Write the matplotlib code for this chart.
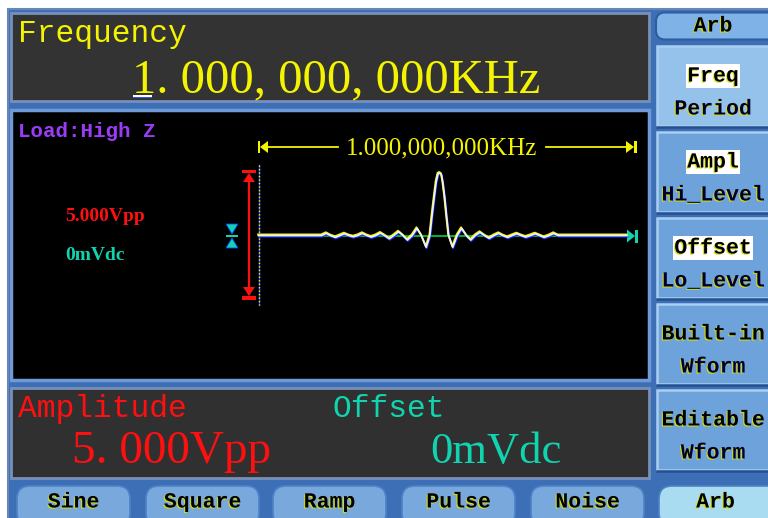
import matplotlib
matplotlib.use("Agg")
import matplotlib.pyplot as plt
from matplotlib.patches import Rectangle, FancyBboxPatch, Polygon
import matplotlib.patheffects as pe
from matplotlib.transforms import offset_copy

# ---------------- data ----------------
freq_title = "Frequency"
freq_value = "1. 000, 000, 000KHz"
freq_short = "1.000,000,000KHz"
load_label = "Load:High Z"
amp_title = "Amplitude"
amp_value = "5. 000Vpp"
amp_short = "5.000Vpp"
off_title = "Offset"
off_value = "0mVdc"
amplitude_vpp = 5.0
offset_v = 0.0

# arbitrary waveform (normalised, one period)
wave_t = [0.000, 0.171, 0.184, 0.195, 0.209, 0.221, 0.233, 0.245, 0.257, 0.269,
          0.282, 0.294, 0.306, 0.318, 0.331, 0.342, 0.355, 0.367, 0.380, 0.392,
          0.404, 0.417, 0.430, 0.442, 0.455, 0.465, 0.471, 0.477, 0.482, 0.487,
          0.491, 0.496, 0.500, 0.505, 0.510, 0.516, 0.527, 0.539, 0.551, 0.564,
          0.576, 0.588, 0.601, 0.613, 0.626, 0.639, 0.652, 0.663, 0.676, 0.688,
          0.701, 0.713, 0.725, 0.738, 0.751, 0.763, 0.775, 0.789, 0.801, 0.813,
          1.000]
wave_v = [0.000, 0.000, 0.035, 0.000, -0.029, 0.000, 0.029, 0.000, -0.019, 0.000,
          0.035, 0.000, -0.024, 0.000, 0.040, 0.000, -0.051, 0.000, 0.060, 0.000,
          -0.071, 0.000, 0.114, 0.000, -0.187, 0.000, 0.325, 0.616, 0.849, 0.976,
          0.992, 0.976, 0.849, 0.616, 0.325, 0.000, -0.187, 0.000, 0.114, 0.000,
          -0.071, 0.000, 0.051, 0.000, -0.044, 0.000, 0.035, 0.000, -0.029, 0.000,
          0.029, 0.000, -0.024, 0.000, 0.029, 0.000, -0.029, 0.000, 0.035, 0.000,
          0.000]

side_top = "Arb"
side_keys = [("Freq", "Period"), ("Ampl", "Hi_Level"), ("Offset", "Lo_Level"),
             ("Built-in", "Wform"), ("Editable", "Wform")]
bottom_keys = ["Sine", "Square", "Ramp", "Pulse", "Noise", "Arb"]

# ---------------- styles ----------------
MONO = "Liberation Mono"
SERIF = "Liberation Serif"
BLUE_BG = "#3d6fb7"
YEL = "#f4f400"
RED = "#ff1010"
CYAN = "#10d4b0"
PURPLE = "#9a3cf5"

fig = plt.figure(figsize=(7.68, 5.18), dpi=100)
fig.patch.set_facecolor("white")
ax = fig.add_axes([0, 0, 1, 1])
ax.set_xlim(0, 768)
ax.set_ylim(518, 0)
ax.axis("off")

# frame background
ax.add_patch(Rectangle((8, 9), 770, 520, facecolor=BLUE_BG, edgecolor="#6a86b8", lw=1.5))

# panels
ax.add_patch(Rectangle((10.5, 12.5), 638, 88, facecolor="#333333", edgecolor="#7890b8", lw=2))
ax.add_patch(Rectangle((10.5, 110), 638, 270, facecolor="#000000", edgecolor="#6f9ad6", lw=2.5))
ax.add_patch(Rectangle((10.5, 388), 638, 90, facecolor="#303030", edgecolor="#7890b8", lw=2))

# ---- top panel text
ax.text(18, 42, freq_title, family=MONO, fontsize=22.5, color=YEL, va="baseline", ha="left")
ax.text(132, 92, freq_value, family=SERIF, fontsize=35, color=YEL, va="baseline", ha="left")
ax.add_patch(Rectangle((133, 94.5), 19, 2, facecolor="white", edgecolor="none"))
ax.add_patch(Rectangle((133, 96.5), 19, 1.3, facecolor="#3050ff", edgecolor="none"))

# ---- bottom panel text
ax.text(18, 417, amp_title, family=MONO, fontsize=22.5, color=RED, va="baseline", ha="left")
ax.text(333, 417, off_title, family=MONO, fontsize=22.5, color=CYAN, va="baseline", ha="left")
ax.text(72, 463, amp_value, family=SERIF, fontsize=34, color=RED, va="baseline", ha="left")
ax.text(496, 463, off_value, family=SERIF, fontsize=32, color=CYAN, va="baseline", ha="center")

# ---- middle panel labels
ax.text(18, 137, load_label, family=MONO, fontsize=15, fontweight="bold", color=PURPLE,
        va="baseline", ha="left")
ax.text(65, 221, amp_short, family=SERIF, fontsize=14, fontweight="bold", color=RED,
        va="baseline", ha="left")
ax.text(65, 260, off_value, family=SERIF, fontsize=14, fontweight="bold", color=CYAN,
        va="baseline", ha="left")

# frequency span arrow
ay = 147
ax.add_patch(Rectangle((257.5, ay - 6), 2.5, 12, facecolor=YEL, edgecolor="none"))
ax.add_patch(Polygon([(260, ay), (268, ay - 6), (268, ay + 6)], closed=True, facecolor=YEL, edgecolor="none"))
ax.plot([268, 338], [ay, ay], color=YEL, lw=1.3)
ax.plot([546, 627], [ay, ay], color=YEL, lw=1.3)
ax.add_patch(Polygon([(634, ay), (626, ay - 6), (626, ay + 6)], closed=True, facecolor=YEL, edgecolor="none"))
ax.add_patch(Rectangle((634, ay - 6), 2.5, 12, facecolor=YEL, edgecolor="none"))
ax.text(442, ay + 7, freq_short, family=SERIF, fontsize=18, color=YEL, va="baseline", ha="center",
        bbox=dict(facecolor="black", edgecolor="none", pad=0.5))

# amplitude arrow (red)
rx = 249
ax.plot([rx, rx], [176, 294], color=RED, lw=1.6)
ax.add_patch(Rectangle((rx - 7, 169.5), 14, 3.5, facecolor=RED, edgecolor="none"))
ax.add_patch(Polygon([(rx, 173), (rx - 6, 182), (rx + 6, 182)], closed=True, facecolor=RED, edgecolor="none"))
ax.add_patch(Rectangle((rx - 7, 296), 14, 3.5, facecolor=RED, edgecolor="none"))
ax.add_patch(Polygon([(rx, 296), (rx - 6, 287), (rx + 6, 287)], closed=True, facecolor=RED, edgecolor="none"))

# offset marker (cyan)
ox, oy = 232, 236
ax.add_patch(Polygon([(ox - 6, oy - 12), (ox + 6, oy - 12), (ox, oy - 2)], closed=True,
                     facecolor=CYAN, edgecolor="#1040ff", lw=0.6))
ax.add_patch(Rectangle((ox - 6, oy - 1.2), 12, 2.4, facecolor=CYAN, edgecolor="none"))
ax.add_patch(Polygon([(ox - 6, oy + 12), (ox + 6, oy + 12), (ox, oy + 2)], closed=True,
                     facecolor=CYAN, edgecolor="#1040ff", lw=0.6))

# dotted time-zero line
ax.plot([258.5, 258.5], [165, 305], color="#2040ff", lw=1.0)
ax.plot([258.5, 258.5], [165, 305], color=YEL, lw=1.0, linestyle=(0, (1, 1.5)))

# end marker (cyan)
ax.add_patch(Polygon([(627, oy - 6.5), (627, oy + 6.5), (635, oy)], closed=True, facecolor=CYAN, edgecolor="none"))
ax.add_patch(Rectangle((635, oy - 6.5), 2.5, 13, facecolor=CYAN, edgecolor="none"))

# ---- waveform axes
wx0, wx1, wy0, wy1 = 258.5, 627, 172.5, 298.5
wax = fig.add_axes([wx0 / 768, 1 - wy1 / 518, (wx1 - wx0) / 768, (wy1 - wy0) / 518])
wax.set_xlim(0, 1)
wax.set_ylim(offset_v - amplitude_vpp / 2, offset_v + amplitude_vpp / 2)
wax.axis("off")
wax.patch.set_alpha(0)
volts = [offset_v + amplitude_vpp / 2 * v for v in wave_v]
wax.plot([0, 1], [offset_v, offset_v], color="#00c040", lw=1.3, clip_on=False)
tb = offset_copy(wax.transData, fig=fig, x=0.5, y=-1.1, units="dots")
ty = offset_copy(wax.transData, fig=fig, x=-0.5, y=1.1, units="dots")
wax.plot(wave_t, volts, color="#1830ff", lw=1.3, transform=tb, clip_on=False, solid_joinstyle="round")
wax.plot(wave_t, volts, color=YEL, lw=1.3, transform=ty, clip_on=False, solid_joinstyle="round")
wax.plot(wave_t, volts, color="#f0f0f0", lw=1.3, clip_on=False, solid_joinstyle="round")

# ---- right column
ax.add_patch(FancyBboxPatch((656, 12.5), 130, 27, boxstyle="round,pad=0,rounding_size=9",
                            facecolor="#7fb2e6", edgecolor="#2d5d9e", lw=1.5))
halo = [pe.withSimplePatchShadow(offset=(-0.8, -0.8), shadow_rgbFace="#d8e000", alpha=0.9)]
ax.text(713, 26, side_top, family=MONO, fontsize=15.5, fontweight="bold", color="black",
        ha="center", va="center", path_effects=halo)

btn_tops = [46, 132, 218, 304, 390]
for i, (k1, k2) in enumerate(side_keys):
    top = btn_tops[i]
    fc = "#95c2ea" if i == 0 else "#6ea2da"
    ax.add_patch(Rectangle((657, top), 120, 80, facecolor=fc, edgecolor="#a9cff2", lw=1.8))
    ax.plot([657, 768], [top + 81, top + 81], color="#23508f", lw=1.8)
    bbox = dict(facecolor="#ffffff", edgecolor="none", boxstyle="square,pad=0.08") if i < 3 else None
    ax.text(713, top + 30, k1, family=MONO, fontsize=15.5, fontweight="bold", color="black",
            ha="center", va="center", bbox=bbox, path_effects=halo)
    ax.text(713, top + 63, k2, family=MONO, fontsize=15.5, fontweight="bold", color="#000030",
            ha="center", va="center", path_effects=halo)

# ---- bottom buttons
bx = [17, 146, 273, 402, 531, 659]
for i, name in enumerate(bottom_keys):
    w = 113 if i < 5 else 130
    fc = "#a9dcf0" if i == 5 else "#79a8dd"
    ax.add_patch(FancyBboxPatch((bx[i], 486), w, 40, boxstyle="round,pad=0,rounding_size=13",
                                facecolor=fc, edgecolor="#4f82c6", lw=1.2))
    cx = bx[i] + 113 / 2
    ax.text(cx, 502, name, family=MONO, fontsize=15.5, fontweight="bold", color="black",
            ha="center", va="center", path_effects=halo)

fig.savefig("out.png", dpi=100, facecolor="white")
